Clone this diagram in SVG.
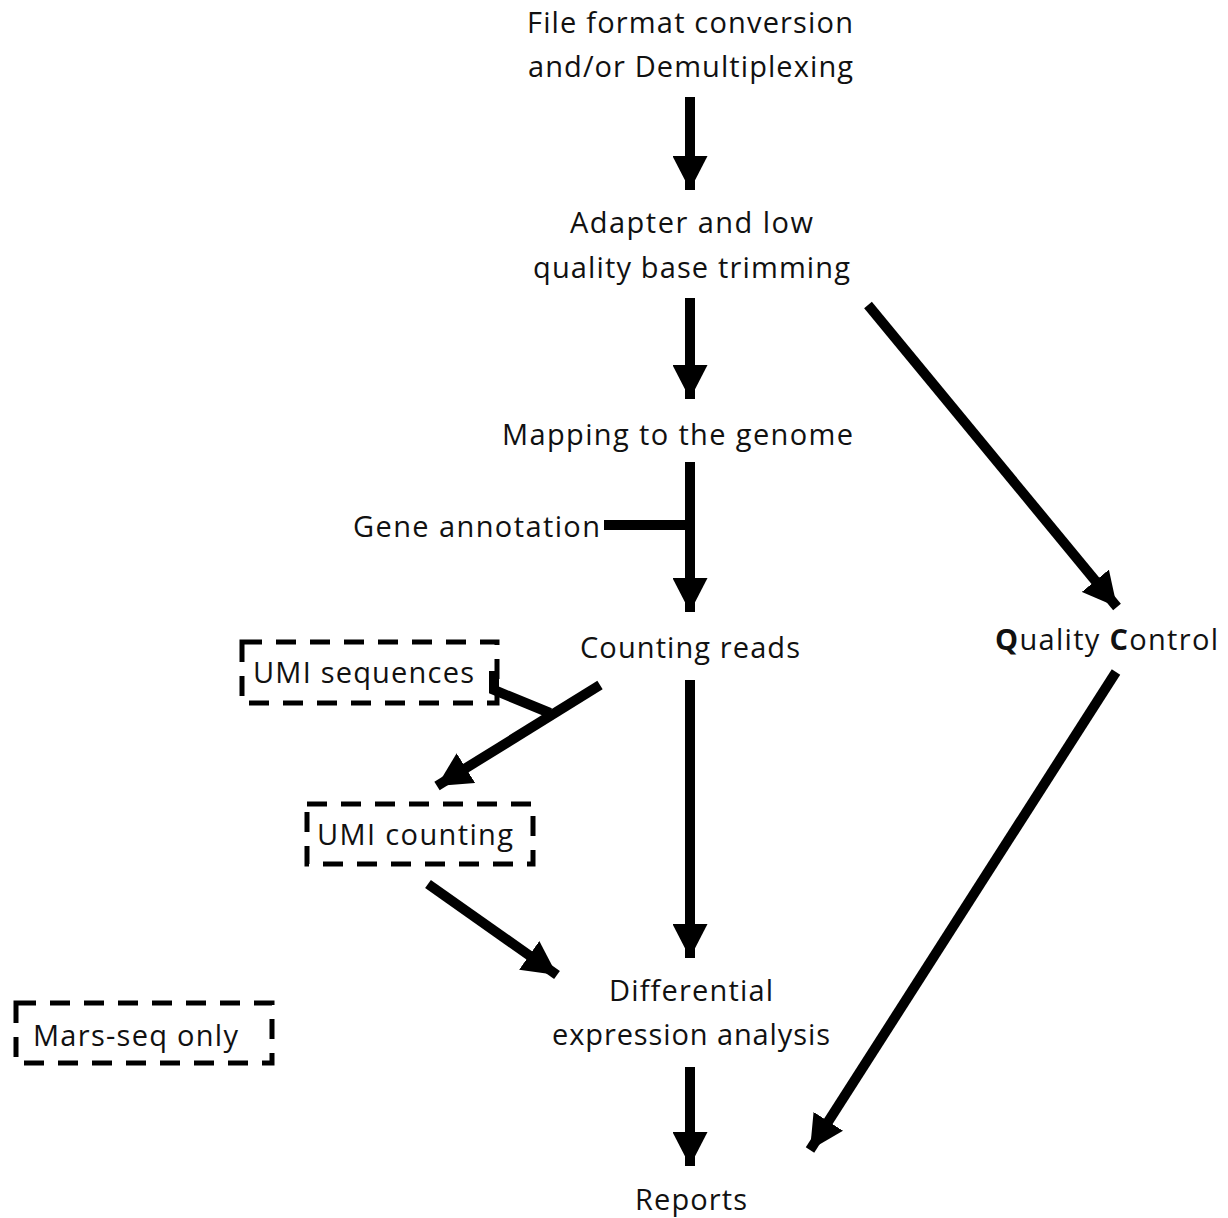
<svg xmlns="http://www.w3.org/2000/svg" width="1228" height="1218" viewBox="0 0 1228 1218">
<defs>
<style>
text{font-family:"Open Sans","Liberation Sans",sans-serif;font-size:29px;fill:#111;font-variant-ligatures:none}
.arr{stroke:#000;stroke-width:10;fill:none;marker-end:url(#ah)}
.ln{stroke:#000;stroke-width:10;fill:none}
.box{fill:none;stroke:#000;stroke-width:5;stroke-dasharray:20 14}
</style>
<marker id="ah" markerUnits="userSpaceOnUse" markerWidth="34" markerHeight="35" refX="34" refY="17.5" orient="auto" viewBox="0 0 34 35">
<path d="M0,0 L34,17.5 L0,35 z" fill="#000"/>
</marker>
</defs>
<rect width="1228" height="1218" fill="#fff"/>
<g id="n-fileformat">
<text x="527" y="33" textLength="326">File format conversion</text>
<text x="528" y="77" textLength="325">and/or Demultiplexing</text>
</g>
<g id="n-adapter">
<text x="570" y="233" textLength="243">Adapter and low</text>
<text x="533" y="278" textLength="317">quality base trimming</text>
</g>
<g id="n-mapping">
<text x="502" y="445" textLength="351">Mapping to the genome</text>
</g>
<g id="n-gene">
<text x="353" y="537" textLength="247">Gene annotation</text>
</g>
<g id="n-counting">
<text x="580" y="658" textLength="220">Counting reads</text>
</g>
<g id="n-umiseq">
<rect class="box" x="242" y="642" width="255" height="61"/>
<text x="253" y="683" textLength="221">UMI sequences</text>
</g>
<g id="n-umicount">
<rect class="box" x="307" y="804" width="226" height="60"/>
<text x="317" y="845" textLength="196">UMI counting</text>
</g>
<g id="n-qc">
<text x="995" y="650" textLength="223"><tspan font-weight="bold">Q</tspan>uality <tspan font-weight="bold">C</tspan>ontrol</text>
</g>
<g id="n-diff">
<text x="609" y="1001" textLength="164">Differential</text>
<text x="552" y="1045" textLength="278">expression analysis</text>
</g>
<g id="n-reports">
<text x="635" y="1210" textLength="112">Reports</text>
</g>
<g id="n-mars">
<rect class="box" x="16" y="1003" width="256" height="60"/>
<text x="33" y="1046" textLength="205">Mars-seq only</text>
</g>
<g id="connectors">
<line class="arr" x1="690" y1="97" x2="690" y2="190"/>
<line class="arr" x1="690" y1="298" x2="690" y2="399"/>
<line class="arr" x1="690" y1="462" x2="690" y2="612"/>
<line class="ln" x1="604" y1="525" x2="690" y2="525"/>
<line class="arr" x1="600" y1="685" x2="437" y2="786"/>
<line class="arr" x1="690" y1="680" x2="690" y2="958"/>
<polyline class="ln" points="494,671 494,690 550,713"/>
<line class="arr" x1="428" y1="884" x2="557" y2="975"/>
<line class="arr" x1="690" y1="1067" x2="690" y2="1166"/>
<line class="arr" x1="868" y1="305" x2="1117" y2="607"/>
<line class="arr" x1="1116" y1="672" x2="810" y2="1150"/>
</g>
</svg>
